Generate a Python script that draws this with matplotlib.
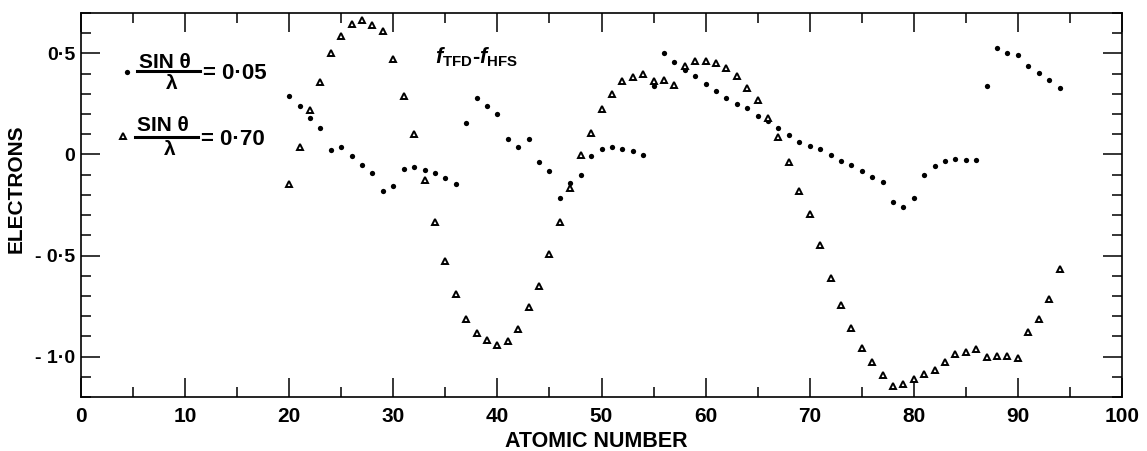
import numpy as np
import matplotlib
matplotlib.use("Agg")
import matplotlib.pyplot as plt
from matplotlib.ticker import MultipleLocator, FixedLocator, FixedFormatter

# =============================================================================
# DATA
# =============================================================================

Z = list(range(20, 95))

# sin(theta)/lambda = 0.05 (dots), Z = 20..94
f_005 = [0.29, 0.24, 0.18, 0.13, 0.02, 0.035, -0.01, -0.05, -0.09, -0.18,
         -0.155, -0.07, -0.06, -0.075, -0.09, -0.115, -0.145, 0.155, 0.28, 0.24,
         0.20, 0.076, 0.036, 0.076, -0.038, -0.08, -0.216, -0.14, -0.104, -0.006,
         0.025, 0.036, 0.028, 0.016, -0.002, 0.34, 0.50, 0.46, 0.42, 0.39,
         0.35, 0.315, 0.28, 0.25, 0.23, 0.19, 0.165, 0.13, 0.097, 0.064,
         0.041, 0.025, -0.005, -0.03, -0.054, -0.08, -0.11, -0.137, -0.236, -0.262,
         -0.216, -0.10, -0.056, -0.03, -0.02, -0.025, -0.025, 0.34, 0.526, 0.50,
         0.49, 0.44, 0.405, 0.37, 0.33]

# sin(theta)/lambda = 0.70 (triangles), Z = 20..94
f_070 = [-0.147, 0.036, 0.218, 0.358, 0.50, 0.588, 0.647, 0.663, 0.64, 0.61,
         0.472, 0.29, 0.10, -0.128, -0.335, -0.525, -0.69, -0.815, -0.885, -0.92,
         -0.945, -0.925, -0.863, -0.756, -0.652, -0.493, -0.332, -0.165, -0.005, 0.104,
         0.224, 0.30, 0.363, 0.383, 0.40, 0.366, 0.368, 0.345, 0.436, 0.462,
         0.464, 0.455, 0.427, 0.39, 0.328, 0.272, 0.182, 0.086, -0.038, -0.18,
         -0.294, -0.449, -0.612, -0.743, -0.861, -0.959, -1.028, -1.092, -1.144, -1.134,
         -1.112, -1.088, -1.066, -1.027, -0.985, -0.977, -0.964, -1.003, -0.998, -0.997,
         -1.005, -0.88, -0.815, -0.714, -0.569]

x_ticks = [0, 10, 20, 30, 40, 50, 60, 70, 80, 90, 100]
x_labels = ["0", "10", "20", "30", "40", "50", "60", "70", "80", "90", "100"]
y_ticks = [0.5, 0.0, -0.5, -1.0]
y_labels = ["0·5", "0", "- 0·5", "- 1·0"]

# =============================================================================
# PLOT
# =============================================================================

plt.rcParams['font.family'] = ['Liberation Sans', 'DejaVu Sans']
plt.rcParams['font.weight'] = 'bold'
plt.rcParams['mathtext.fontset'] = 'custom'
plt.rcParams['mathtext.rm'] = 'Liberation Sans:bold'
plt.rcParams['mathtext.it'] = 'Liberation Sans:bold:italic'
plt.rcParams['mathtext.bf'] = 'Liberation Sans:bold'

fig = plt.figure(figsize=(11.47, 4.51), dpi=100)
ax = fig.add_axes([81 / 1147, 54 / 451, 1041 / 1147, 384 / 451])

ax.plot(Z, f_005, linestyle='none', marker='o', markersize=3.8,
        color='black', markeredgewidth=0)
ax.plot(Z, f_070, linestyle='none', marker='^', markersize=4.8,
        markerfacecolor='white', markeredgecolor='black', markeredgewidth=1.4)

ax.set_xlim(0, 100)
ax.set_ylim(-1.2, 0.7)

for s in ax.spines.values():
    s.set_linewidth(1.2)

ax.xaxis.set_major_locator(FixedLocator(x_ticks))
ax.xaxis.set_major_formatter(FixedFormatter(x_labels))
ax.xaxis.set_minor_locator(MultipleLocator(5))
ax.yaxis.set_major_locator(FixedLocator(y_ticks))
ax.yaxis.set_major_formatter(FixedFormatter(y_labels))
ax.yaxis.set_minor_locator(MultipleLocator(0.1))

ax.tick_params(which='both', direction='in', top=True, right=True, width=1.1)
ax.tick_params(which='major', length=14)
ax.tick_params(which='minor', length=7.5)
ax.tick_params(axis='x', which='major', labelsize=15, pad=7)
ax.tick_params(axis='y', which='major', labelsize=14, pad=4)

ax.set_xlabel("ATOMIC NUMBER", fontsize=15.5, fontweight='bold')
ax.xaxis.set_label_coords(0.495, -0.088)
ax.set_ylabel("ELECTRONS", fontsize=15, fontweight='bold')
ax.yaxis.set_label_coords(-0.053, 0.542)

# key: sin(theta)/lambda fractions
ax.plot([4.42], [0.406], linestyle='none', marker='o', markersize=3.8,
        color='black', markeredgewidth=0, clip_on=False)
ax.text(8.1, 0.455, "SIN θ", fontsize=15, ha='center', va='center')
ax.plot([5.38, 11.43], [0.411, 0.411], color='black', linewidth=2.2)
ax.text(8.7, 0.35, "λ", fontsize=15, ha='center', va='center')
ax.text(11.7, 0.40, "= 0·05", fontsize=16, ha='left', va='center')

ax.plot([4.03], [0.089], linestyle='none', marker='^', markersize=4.8,
        markerfacecolor='white', markeredgecolor='black', markeredgewidth=1.4)
ax.text(7.9, 0.144, "SIN θ", fontsize=15, ha='center', va='center')
ax.plot([5.19, 11.24], [0.084, 0.084], color='black', linewidth=2.2)
ax.text(8.55, 0.025, "λ", fontsize=15, ha='center', va='center')
ax.text(11.5, 0.074, "= 0·70", fontsize=16, ha='left', va='center')

ax.text(34.0, 0.48, r"$f_{\mathrm{TFD}}$-$f_{\mathrm{HFS}}$", fontsize=15.5,
        ha='left', va='center')

plt.savefig("out.png", dpi=100)
